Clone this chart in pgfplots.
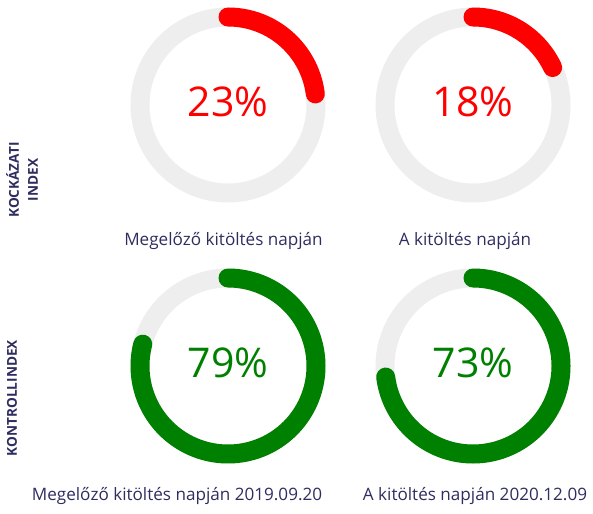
\documentclass[border=0pt]{standalone}
\usepackage{pgfplots}
\pgfplotsset{compat=1.18}
\usepackage{fontspec}
\setmainfont{Open Sans}
\definecolor{txt}{HTML}{2E2D5F}
\definecolor{ringgray}{HTML}{EEEEEE}
\definecolor{gred}{HTML}{FF0000}
\definecolor{ggreen}{HTML}{008000}
% values (percent)
\newcommand{\vA}{23}
\newcommand{\vB}{18}
\newcommand{\vC}{79}
\newcommand{\vD}{73}
\pgfplotsset{
  donut/.style={hide axis, scale only axis, width=176pt, height=176pt,
    xmin=-1, xmax=1, ymin=-1, ymax=1, clip=false, anchor=center},
}
\newcommand{\donut}[3]{%
  \addplot[ringgray, line width=19pt, domain=0:360, samples=181] ({cos(x)},{sin(x)});
  \addplot[#2, line width=19pt, line cap=round, domain={90-3.6*#1}:90, samples=150] ({cos(x)},{sin(x)});
}
\begin{document}
\begin{tikzpicture}
\path[use as bounding box] (0,0) rectangle (593pt,-513pt);
\begin{axis}[donut, at={(228pt,-105pt)}]
\donut{\vA}{gred}{}
\end{axis}
\begin{axis}[donut, at={(473pt,-105pt)}]
\donut{\vB}{gred}{}
\end{axis}
\begin{axis}[donut, at={(228pt,-366pt)}]
\donut{\vC}{ggreen}{}
\end{axis}
\begin{axis}[donut, at={(473pt,-366pt)}]
\donut{\vD}{ggreen}{}
\end{axis}
% percent labels
\node[text=gred, font=\fontsize{41}{46}\selectfont, anchor=center] at (228pt,-102pt) {23\%};
\node[text=gred, font=\fontsize{41}{46}\selectfont, anchor=center] at (473pt,-102pt) {18\%};
\node[text=ggreen, font=\fontsize{41}{46}\selectfont, anchor=center] at (228pt,-363pt) {79\%};
\node[text=ggreen, font=\fontsize{41}{46}\selectfont, anchor=center] at (473pt,-363pt) {73\%};
% captions
\node[text=txt, font=\fontsize{17.1}{20}\selectfont, anchor=base] at (223.5pt,-245pt) {Megelőző kitöltés napján};
\node[text=txt, font=\fontsize{17.1}{20}\selectfont, anchor=base] at (465pt,-245pt) {A kitöltés napján};
\node[text=txt, font=\fontsize{17.1}{20}\selectfont, anchor=base] at (177pt,-500pt) {Megelőző kitöltés napján 2019.09.20};
\node[text=txt, font=\fontsize{17.1}{20}\selectfont, anchor=base] at (475pt,-500pt) {A kitöltés napján 2020.12.09};
% row labels
\node[text=txt, font=\bfseries\fontsize{13.6}{19}\selectfont, rotate=90, align=center] at (22pt,-180pt) {KOCKÁZATI\\INDEX};
\node[text=txt, font=\bfseries\fontsize{13.6}{19}\selectfont, rotate=90] at (12pt,-398pt) {KONTROLLINDEX};
\end{tikzpicture}
\end{document}
